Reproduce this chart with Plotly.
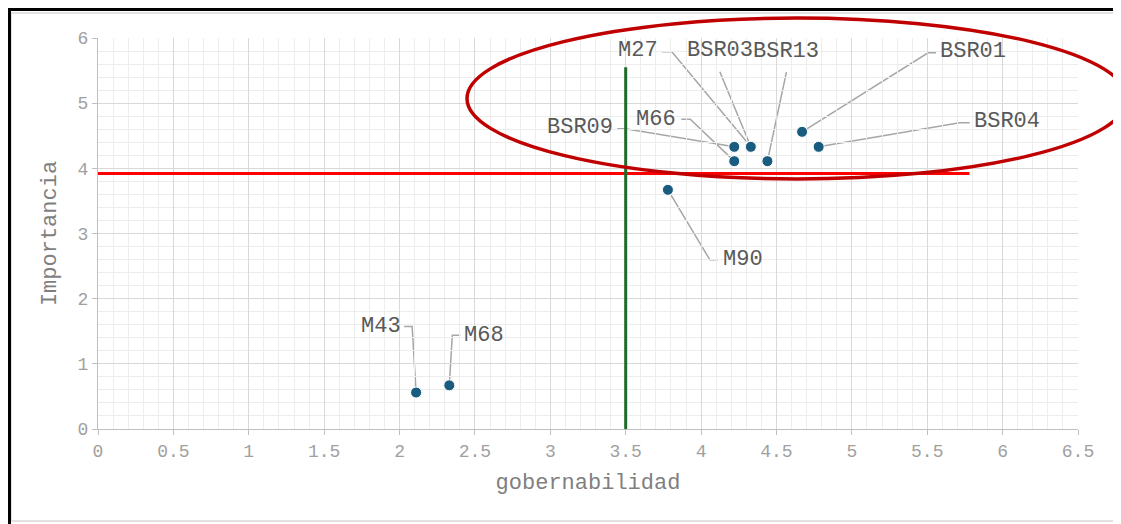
import plotly.graph_objects as go

# ---------------- data ----------------
labels = ["M43", "M68", "M90", "BSR09", "M66", "M27", "BSR03", "BSR13", "BSR01", "BSR04"]
gobernabilidad = [2.11, 2.33, 3.78, 4.22, 4.22, 4.33, 4.33, 4.44, 4.67, 4.78]
importancia = [0.56, 0.67, 3.67, 4.33, 4.11, 4.33, 4.33, 4.11, 4.56, 4.33]

x_ticks = [0, 0.5, 1, 1.5, 2, 2.5, 3, 3.5, 4, 4.5, 5, 5.5, 6, 6.5]
y_ticks = [0, 1, 2, 3, 4, 5, 6]

threshold_x = 3.5          # green vertical line
threshold_x_top = 5.55
threshold_y = 3.92         # red horizontal line
threshold_y_end = 5.78

# ---------------- layout (pixel offsets of labels, screen coords: +dx right, +dy down) -------------
label_layout = {
    "M43":   ([(-4, -66), (-12, -66)], (-13, -66), "right"),
    "M68":   ([(3, -50), (11, -50)], (13, -50), "left"),
    "M90":   ([(42, 70), (50, 70)], (53, 70), "left"),
    "BSR09": ([(-109, -18), (-117, -18)], (-119, -19), "right"),
    "M66":   ([(-44, -42), (-53, -42)], (-56, -42), "right"),
    "M27":   ([(-79, -95), (-89, -95)], (-91, -96), "right"),
    "BSR03": ([(-31, -75)], (-31, -96), "center"),
    "BSR13": ([(19, -89)], (19, -110), "center"),
    "BSR01": ([(126, -79), (134, -79)], (136, -80), "left"),
    "BSR04": ([(141, -24), (151, -24)], (153, -25), "left"),
}

FONT = "Courier New, Liberation Mono, monospace"
OFF = 8                     # page body margin
W, H = 1121 - OFF, 524 - OFF
L, R, T, B = 90, 43, 30, 95
PW, PH = W - L - R, H - T - B


def sx(px):   # screen pixel -> paper x
    return (px - OFF - L) / PW


def sy(py):   # screen pixel -> paper y
    return (H - B - (py - OFF)) / PH


fig = go.Figure()

fig.add_trace(go.Scatter(
    x=gobernabilidad, y=importancia, mode="markers",
    marker=dict(size=11, color="#1a5c80", line=dict(color="#ffffff", width=1)),
    text=labels, hoverinfo="text", showlegend=False, cliponaxis=False,
))

fig.add_trace(go.Scatter(x=[0, threshold_y_end], y=[threshold_y, threshold_y], mode="lines",
                         line=dict(color="#ff0000", width=3), showlegend=False, hoverinfo="skip"))
fig.add_trace(go.Scatter(x=[threshold_x, threshold_x], y=[0, threshold_x_top], mode="lines",
                         line=dict(color="#1e6b2a", width=3), showlegend=False, hoverinfo="skip"))

shapes = []
annotations = []
for name, gx, iy in zip(labels, gobernabilidad, importancia):
    path_pts, (tdx, tdy), anchor = label_layout[name]
    path = "M0,0 " + " ".join(f"L{dx},{-dy}" for dx, dy in path_pts)
    shapes.append(dict(type="path", xref="x", yref="y", xsizemode="pixel", ysizemode="pixel",
                       xanchor=gx, yanchor=iy, path=path,
                       line=dict(color="#a6a6a6", width=1.5), layer="below"))
    annotations.append(dict(x=gx, y=iy, xref="x", yref="y", text=name, showarrow=False,
                            xshift=tdx, yshift=-tdy, xanchor=anchor, yanchor="middle",
                            font=dict(family=FONT, size=22, color="#595959")))

# red ellipse (decoration)
shapes.append(dict(type="circle", xref="paper", yref="paper",
                   x0=sx(467), x1=sx(1127), y0=sy(179), y1=sy(18),
                   line=dict(color="#c00000", width=3.5)))
# frame: light inner border and black outer border
shapes.append(dict(type="rect", xref="paper", yref="paper",
                   x0=sx(11), x1=sx(1119), y0=sy(521), y1=sy(13),
                   line=dict(color="#d9d9d9", width=1.5), layer="below"))
shapes.append(dict(type="line", xref="paper", yref="paper",
                   x0=sx(9.5), x1=sx(9.5), y0=sy(524), y1=sy(8),
                   line=dict(color="#000000", width=3)))
shapes.append(dict(type="line", xref="paper", yref="paper",
                   x0=sx(8), x1=sx(1121), y0=sy(9.5), y1=sy(9.5),
                   line=dict(color="#000000", width=3)))

fig.update_layout(
    width=W, height=H,
    margin=dict(l=L, r=R, t=T, b=B, autoexpand=False),
    paper_bgcolor="#ffffff", plot_bgcolor="#ffffff",
    shapes=shapes, annotations=annotations,
    font=dict(family=FONT),
    xaxis=dict(
        range=[0, 6.5], tickvals=x_ticks, ticktext=[f"{v:g}" for v in x_ticks],
        showgrid=True, gridcolor="#d9d9d9", gridwidth=1,
        minor=dict(dtick=0.1, showgrid=True, gridcolor="#ededed", gridwidth=1, ticks=""),
        showline=True, linecolor="#bfbfbf", linewidth=1,
        ticks="outside", ticklen=5, tickcolor="#bfbfbf",
        tickfont=dict(family=FONT, size=18, color="#a0a0a0"),
        zeroline=False,
        title=dict(text="gobernabilidad", font=dict(family=FONT, size=22, color="#7f7f7f"),
                   standoff=13),
        automargin=False,
    ),
    yaxis=dict(
        range=[0, 6], tickvals=y_ticks, ticktext=[str(v) for v in y_ticks],
        showgrid=True, gridcolor="#d9d9d9", gridwidth=1,
        minor=dict(dtick=0.2, showgrid=True, gridcolor="#ededed", gridwidth=1, ticks=""),
        showline=True, linecolor="#bfbfbf", linewidth=1,
        ticks="outside", ticklen=5, tickcolor="#bfbfbf",
        tickfont=dict(family=FONT, size=18, color="#a0a0a0"),
        zeroline=False,
        title=dict(text="Importancia", font=dict(family=FONT, size=22, color="#7f7f7f"),
                   standoff=14),
        automargin=False,
    ),
)

fig.write_html("out.html")
